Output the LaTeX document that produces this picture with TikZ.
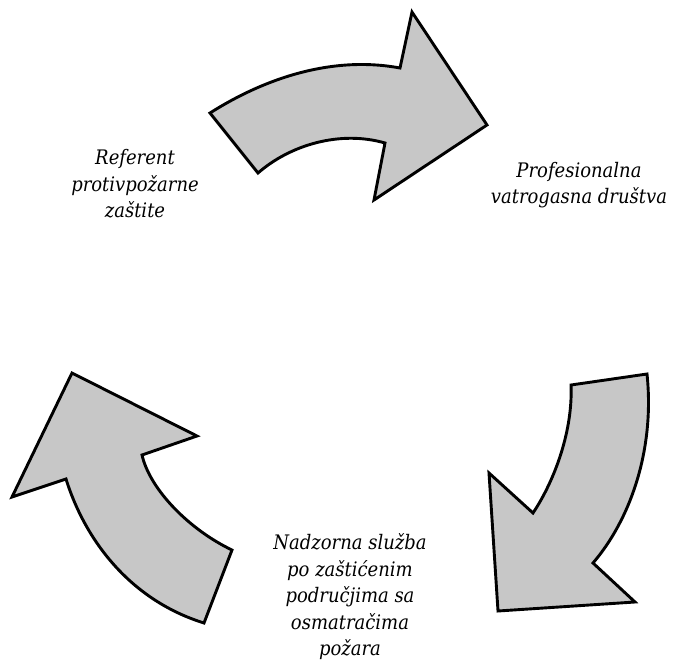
\documentclass[tikz,border=0pt]{standalone}
\usepackage{fontspec}
\setmainfont{DejaVu Serif Condensed}
\usetikzlibrary{positioning}
\tikzstyle{strelica} = [fill=black!22,draw=black,line width=2.9pt,line join=miter]
\tikzstyle{natpis} = [align=center,font=\fontsize{20}{26.5}\selectfont\itshape]

\begin{document}
\begin{tikzpicture}[x=1pt,y=-1pt]
	\useasboundingbox (0,0) rectangle (675,664);

%% gornja strelica
	\draw[strelica] (210,113) .. controls (262,80) and (330,55) .. (400,68)
		-- (412,12) -- (487,125) -- (374,200) -- (385,143)
		.. controls (340,130) and (290,145) .. (258,173) -- cycle;

%% desna strelica
	\draw[strelica] (647,374) -- (571,385)
		.. controls (573,430) and (555,480) .. (533,513)
		-- (489,473) -- (498,611) -- (635,602) -- (593,563)
		.. controls (630,520) and (655,450) .. (647,374) -- cycle;

%% lijeva strelica
	\draw[strelica] (204,623) -- (232,550)
		.. controls (190,530) and (150,490) .. (142,455)
		-- (197,436) -- (72,373) -- (12,497) -- (66,479)
		.. controls (85,540) and (130,600) .. (204,623) -- cycle;

%% natpisi
	\node[natpis] (ref) at (135,184) {Referent\\protivpožarne\\zaštite};
	\node[natpis] (prof) at (579,185) {Profesionalna\\vatrogasna društva};
	\node[natpis] (nadz) at (350,597) {Nadzorna služba\\po zaštićenim\\područjima sa\\osmatračima\\požara};

\end{tikzpicture}
\end{document}
